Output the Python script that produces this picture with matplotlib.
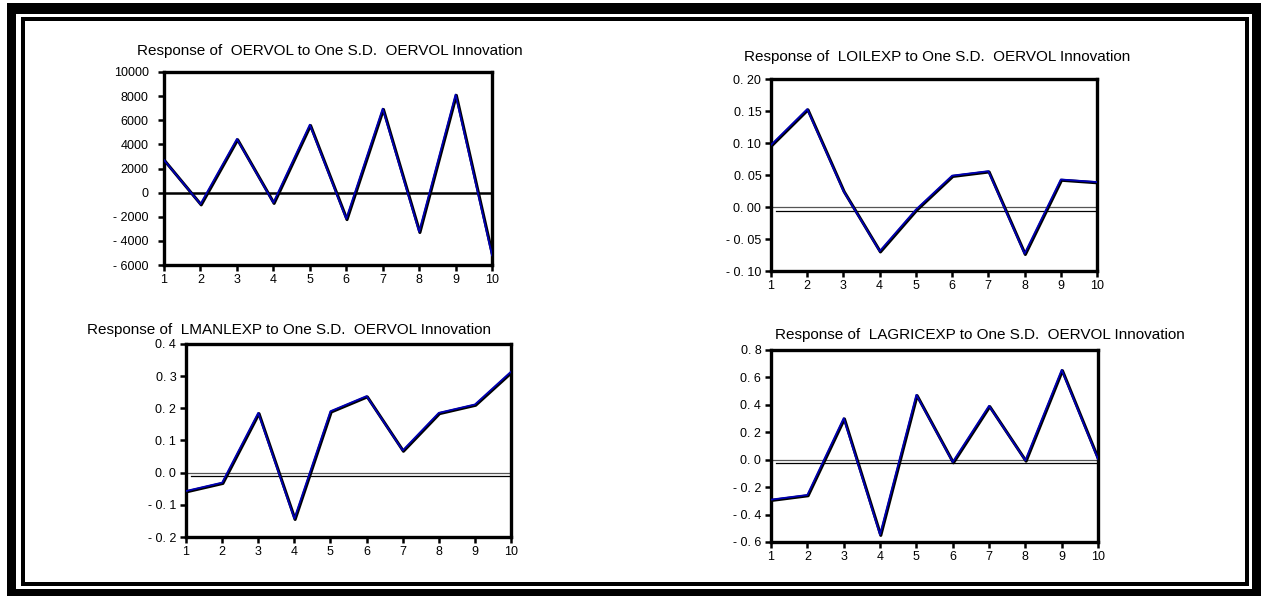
import numpy as np
import matplotlib
matplotlib.use("Agg")
import matplotlib.pyplot as plt
import matplotlib.patches as patches
import matplotlib.transforms as mtransforms

plt.rcParams['font.family'] = ['Liberation Sans', 'DejaVu Sans']

periods = [1, 2, 3, 4, 5, 6, 7, 8, 9, 10]

oervol = [2700, -950, 4450, -830, 5630, -2170, 6960, -3240, 8130, -5200]
loilexp = [0.097, 0.153, 0.025, -0.069, -0.004, 0.049, 0.056, -0.073, 0.043, 0.039]
lmanlexp = [-0.057, -0.031, 0.186, -0.143, 0.191, 0.238, 0.069, 0.186, 0.212, 0.314]
lagricexp = [-0.291, -0.257, 0.303, -0.546, 0.473, -0.017, 0.393, -0.005, 0.655, 0.005]

titles = [
    "Response of  OERVOL to One S.D.  OERVOL Innovation",
    "Response of  LOILEXP to One S.D.  OERVOL Innovation",
    "Response of  LMANLEXP to One S.D.  OERVOL Innovation",
    "Response of  LAGRICEXP to One S.D.  OERVOL Innovation",
]

yticks_oervol = [-6000, -4000, -2000, 0, 2000, 4000, 6000, 8000, 10000]
ylabels_oervol = ["- 6000", "- 4000", "- 2000", "0", "2000", "4000", "6000", "8000", "10000"]
yticks_loil = [-0.10, -0.05, 0.00, 0.05, 0.10, 0.15, 0.20]
ylabels_loil = ["- 0. 10", "- 0. 05", "0. 00", "0. 05", "0. 10", "0. 15", "0. 20"]
yticks_lman = [-0.2, -0.1, 0.0, 0.1, 0.2, 0.3, 0.4]
ylabels_lman = ["- 0. 2", "- 0. 1", "0. 0", "0. 1", "0. 2", "0. 3", "0. 4"]
yticks_lagr = [-0.6, -0.4, -0.2, 0.0, 0.2, 0.4, 0.6, 0.8]
ylabels_lagr = ["- 0. 6", "- 0. 4", "- 0. 2", "0. 0", "0. 2", "0. 4", "0. 6", "0. 8"]

W, H = 1264, 596
fig = plt.figure(figsize=(W / 100, H / 100), dpi=100)


def rect(x0, y0, x1, y1, color):
    # pixel box (top-left origin) -> figure fraction
    fig.patches.append(patches.Rectangle((x0 / W, 1 - y1 / H), (x1 - x0) / W, (y1 - y0) / H,
                                         transform=fig.transFigure, facecolor=color,
                                         edgecolor='none', zorder=-10))


# double frame round the whole picture
rect(7, 3, 1261, 596, 'black')
rect(16, 14, 1252, 589, 'white')
rect(21, 17, 1249, 586, 'black')
rect(25, 21, 1245, 582, 'white')


def add_panel(box, values, ticks, labels, title, title_xy, thick_zero=False, ypad=3):
    left, top, right, bottom = box
    ax = fig.add_axes([left / W, 1 - bottom / H, (right - left) / W, (bottom - top) / H])
    ax.set_xlim(1, 10)
    ax.set_ylim(ticks[0], ticks[-1])
    ax.set_xticks(periods)
    ax.set_xticklabels([str(p) for p in periods])
    ax.set_yticks(ticks)
    ax.set_yticklabels(labels)
    for s in ax.spines.values():
        s.set_linewidth(2.4)
    ax.tick_params(direction='out', length=4, width=1.8, labelsize=9)
    ax.tick_params(axis='x', pad=2.5)
    ax.tick_params(axis='y', pad=ypad)

    if thick_zero:
        ax.axhline(0, color='black', lw=1.8, zorder=2)
    else:
        ax.axhline(0, color='#555555', lw=0.9, zorder=2)
        shift = mtransforms.ScaledTranslation(0, -3.5 / 100, fig.dpi_scale_trans)
        ax.plot([0.015, 1], [0, 0], color='black', lw=0.9, zorder=2,
                transform=ax.get_yaxis_transform() + shift)

    shadow = mtransforms.ScaledTranslation(0.8 / 100, -0.8 / 100, fig.dpi_scale_trans)
    ax.plot(periods, values, color='black', lw=2.2, zorder=3,
            transform=ax.transData + shadow, clip_on=True)
    ax.plot(periods, values, color='#0000b4', lw=1.3, zorder=4)

    fig.text(title_xy[0] / W, 1 - title_xy[1] / H, title, ha='center', va='center',
             fontsize=11)
    return ax


add_panel((164, 72, 492, 265), oervol, yticks_oervol, ylabels_oervol, titles[0], (330, 51),
          thick_zero=True, ypad=7)
add_panel((771, 79, 1097, 271), loilexp, yticks_loil, ylabels_loil, titles[1], (937, 57))
add_panel((186, 344, 511, 537), lmanlexp, yticks_lman, ylabels_lman, titles[2], (289, 330))
add_panel((771, 350, 1098, 542), lagricexp, yticks_lagr, ylabels_lagr, titles[3], (980, 335))

fig.savefig("out.png", dpi=100)
